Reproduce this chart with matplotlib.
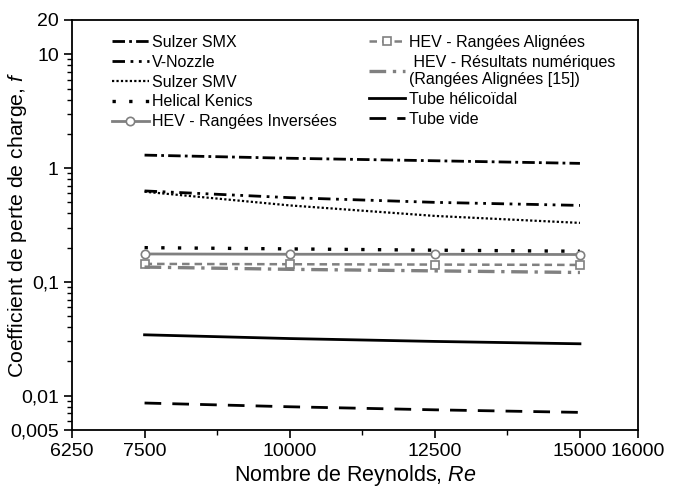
import matplotlib
matplotlib.use("Agg")
import matplotlib.pyplot as plt
from matplotlib.ticker import FixedLocator, NullFormatter
import numpy as np

plt.rcParams['font.family'] = ['Liberation Sans', 'DejaVu Sans']
plt.rcParams['mathtext.fontset'] = 'custom'
plt.rcParams['mathtext.it'] = 'Liberation Sans:italic'
plt.rcParams['mathtext.rm'] = 'Liberation Sans'

re = [7500, 10000, 12500, 15000]
sulzer_smx = [1.30, 1.22, 1.16, 1.10]
v_nozzle = [0.63, 0.55, 0.50, 0.47]
sulzer_smv = [0.62, 0.47, 0.38, 0.33]
helical_kenics = [0.200, 0.195, 0.190, 0.186]
hev_inversees = [0.176, 0.175, 0.175, 0.174]
hev_alignees = [0.144, 0.143, 0.142, 0.141]
hev_numeriques = [0.135, 0.129, 0.125, 0.121]
tube_helicoidal = [0.0343, 0.0318, 0.0300, 0.0286]
tube_vide = [0.00863, 0.00800, 0.00752, 0.00714]

xticks = [6250, 7500, 10000, 12500, 15000, 16000]
xticklabels = ['6250', '7500', '10000', '12500', '15000', '16000']
yticks = [0.005, 0.01, 0.1, 1, 10, 20]
yticklabels = ['0,005', '0,01', '0,1', '1', '10', '20']

gray = '#808080'
fig = plt.figure(figsize=(6.76, 4.92), dpi=100)
ax = fig.add_axes([72/676, 1-430/492, (638-72)/676, (430-20)/492])

ax.plot(re, sulzer_smx, color='black', lw=2, ls=(0, (4.5, 1.5, 1, 1.5)), label='Sulzer SMX')
ax.plot(re, v_nozzle, color='black', lw=2, ls=(0, (4.5, 2, 1, 2, 1, 2)), label='V-Nozzle')
ax.plot(re, sulzer_smv, color='black', lw=1.6, ls=(0, (1, 1)), label='Sulzer SMV')
ax.plot(re, helical_kenics, color='black', lw=2.4, ls=(0, (1, 4)), label='Helical Kenics')
ax.plot(re, hev_inversees, color=gray, lw=2, ls='-', marker='o', ms=6,
        mfc='white', mec=gray, mew=1.2, label='HEV - Rangées Inversées')
ax.plot(re, hev_alignees, color=gray, lw=1.8, ls=(0, (3, 2)), marker='s', ms=5.5,
        mfc='white', mec=gray, mew=1.2, label='HEV - Rangées Alignées')
ax.plot(re, hev_numeriques, color=gray, lw=2.4, ls=(0, (5, 2, 1, 2)),
        label=' HEV - Résultats numériques\n(Rangées Alignées [15])')
ax.plot(re, tube_helicoidal, color='black', lw=2, ls='-', label='Tube hélicoïdal')
ax.plot(re, tube_vide, color='black', lw=2, ls=(0, (6, 4)), label='Tube vide')

ax.set_yscale('log')
ax.set_xlim(6250, 16000)
ax.set_ylim(0.005, 20)
ax.xaxis.set_major_locator(FixedLocator(xticks))
ax.set_xticklabels(xticklabels)
ax.xaxis.set_minor_locator(FixedLocator([8750, 11250, 13750]))
ax.yaxis.set_major_locator(FixedLocator(yticks))
ax.set_yticklabels(yticklabels)
minor_y = [0.006, 0.007, 0.008, 0.009] + [k*0.01 for k in range(2, 10)] + \
          [k*0.1 for k in range(2, 10)] + [k for k in range(2, 10)]
ax.yaxis.set_minor_locator(FixedLocator(minor_y))
ax.yaxis.set_minor_formatter(NullFormatter())

ax.tick_params(axis='both', which='major', direction='out', length=6, width=1.2,
               labelsize=14, top=False, right=False)
ax.tick_params(axis='both', which='minor', direction='out', length=3.5, width=1.0,
               top=False, right=False)
for s in ax.spines.values():
    s.set_linewidth(1.3)

ax.set_xlabel('Nombre de Reynolds, $\\mathit{Re}$', fontsize=15.5)
ax.xaxis.set_label_coords(0.5, -(463-430)/410)
ax.set_ylabel('Coefficient de perte de charge, $\\mathit{f}$', fontsize=15.3)
ax.yaxis.set_label_coords(-(72-29)/566, 0.5)

leg = ax.legend(ncol=2, loc='upper left', bbox_to_anchor=((112-72)/566, 1-(35-20)/410),
                frameon=False, fontsize=11.5, handlelength=2.3, handletextpad=0.2,
                columnspacing=2.0, labelspacing=0.3, borderpad=0, borderaxespad=0)

fig.savefig('out.png', dpi=100)
